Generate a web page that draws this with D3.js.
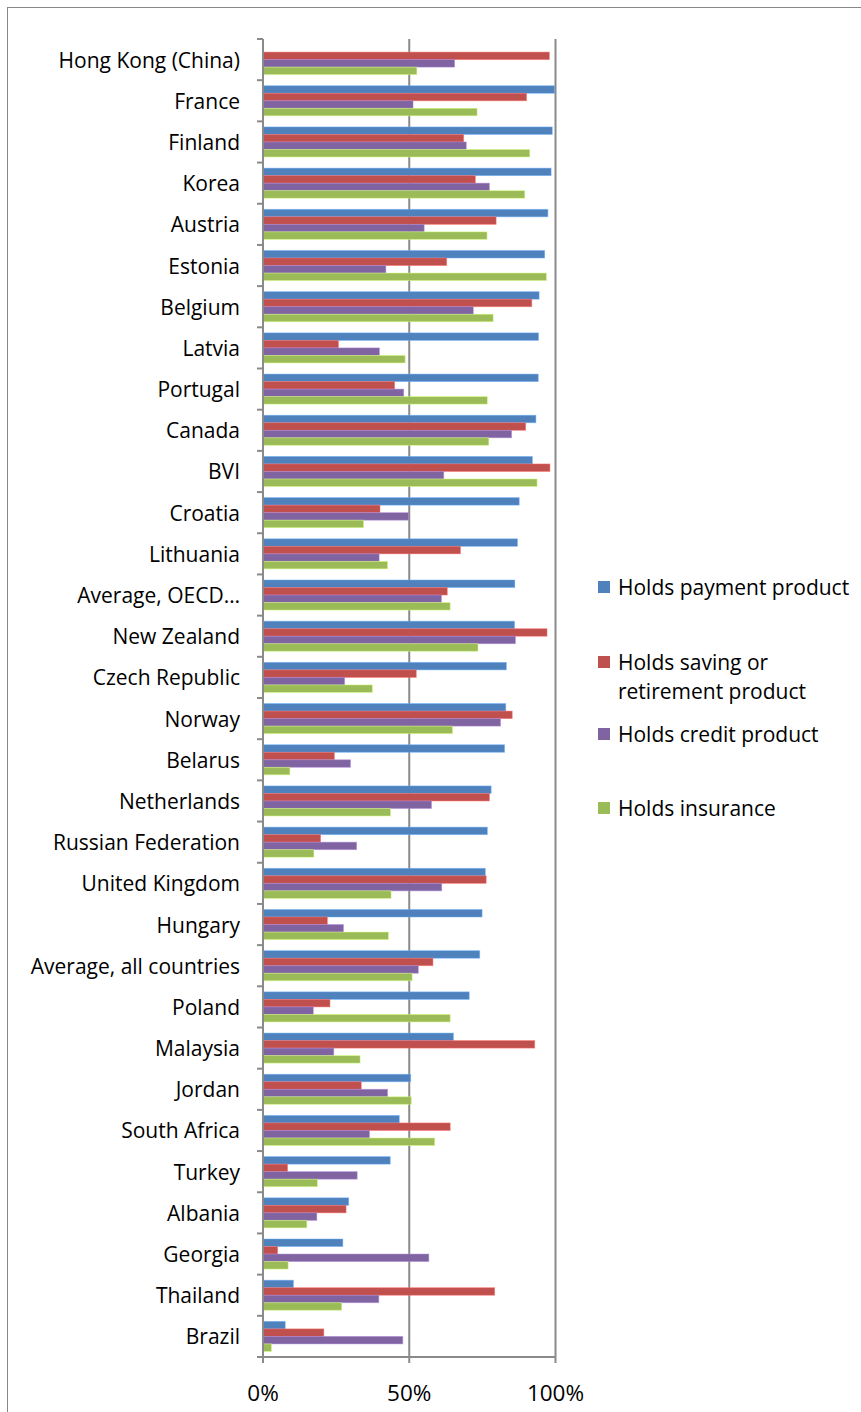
<!DOCTYPE html>
<html>
<head>
<meta charset="utf-8">
<script src="https://cdn.jsdelivr.net/npm/d3@7"></script>
<style>
  html, body { margin: 0; padding: 0; background: #fff; }
  svg { display: block; }
  text { font-family: "Open Sans", "Noto Sans", sans-serif; fill: #000; }
</style>
</head>
<body>
<svg id="chart" width="861" height="1412"></svg>
<script>
// Share of adults holding each type of financial product, by economy
const countries = [
  "Hong Kong (China)", "France", "Finland", "Korea", "Austria", "Estonia", "Belgium",
  "Latvia", "Portugal", "Canada", "BVI", "Croatia", "Lithuania", "Average, OECD…",
  "New Zealand", "Czech Republic", "Norway", "Belarus", "Netherlands",
  "Russian Federation", "United Kingdom", "Hungary", "Average, all countries",
  "Poland", "Malaysia", "Jordan", "South Africa", "Turkey", "Albania", "Georgia",
  "Thailand", "Brazil"
];

const payment = [null, 99.7, 98.9, 98.5, 97.4, 96.3, 94.4, 94.2, 94.1, 93.3, 92.1, 87.6,
  87.0, 86.1, 86.0, 83.2, 83.0, 82.6, 78.0, 76.7, 76.0, 74.9, 74.1, 70.5, 65.1, 50.5,
  46.6, 43.5, 29.3, 27.3, 10.4, 7.6];
const saving = [97.9, 90.1, 68.6, 72.6, 79.7, 62.8, 91.9, 25.8, 45.0, 89.8, 98.1, 40.0,
  67.5, 63.0, 97.1, 52.4, 85.2, 24.4, 77.4, 19.7, 76.3, 22.0, 58.1, 22.9, 92.9, 33.6,
  64.0, 8.4, 28.4, 5.0, 79.2, 20.8];
const credit = [65.5, 51.3, 69.5, 77.4, 55.1, 42.0, 71.9, 39.8, 48.1, 85.0, 61.8, 49.8,
  39.7, 61.0, 86.3, 27.9, 81.2, 29.9, 57.6, 32.0, 61.1, 27.5, 53.1, 17.2, 24.2, 42.6,
  36.4, 32.2, 18.4, 56.7, 39.6, 47.8];
const insurance = [52.6, 73.2, 91.2, 89.5, 76.6, 96.9, 78.7, 48.6, 76.7, 77.2, 93.7, 34.4,
  42.6, 64.0, 73.5, 37.4, 64.8, 9.2, 43.6, 17.4, 43.8, 42.9, 51.0, 64.0, 33.2, 50.7,
  58.7, 18.6, 15.0, 8.6, 26.9, 2.9];

const seriesNames = ["Holds payment product", "Holds saving or retirement product",
  "Holds credit product", "Holds insurance"];
const seriesLegendLines = [["Holds payment product"], ["Holds saving or", "retirement product"],
  ["Holds credit product"], ["Holds insurance"]];
const seriesColors = ["#4F81BD", "#C0504D", "#8064A2", "#9BBB59"];
const seriesValues = [payment, saving, credit, insurance];
const xTicks = [0, 50, 100];

const svg = d3.select("#chart");

// outer chart frame
svg.append("rect")
  .attr("x", 7.5).attr("y", 7.5)
  .attr("width", 880).attr("height", 1430)
  .attr("fill", "none").attr("stroke", "#888").attr("stroke-width", 1);

const plot = { left: 263, right: 555.5, top: 39, bottom: 1357 };

const x = d3.scaleLinear().domain([0, 100]).range([plot.left, plot.right]);
const y = d3.scaleBand().domain(countries).range([plot.top, plot.bottom]).paddingInner(0.27).paddingOuter(0.135);
const sub = d3.scaleBand().domain(d3.range(4)).range([0, y.bandwidth()]);

// vertical gridlines
svg.append("g").selectAll("line")
  .data(xTicks.filter(t => t > 0))
  .join("line")
  .attr("x1", d => x(d)).attr("x2", d => x(d))
  .attr("y1", plot.top).attr("y2", plot.bottom)
  .attr("stroke", "#8a8a8a").attr("stroke-width", 2);

// bars
const groups = svg.append("g").selectAll("g")
  .data(countries)
  .join("g")
  .attr("transform", d => `translate(0,${y(d)})`);

groups.each(function (c, i) {
  const g = d3.select(this);
  seriesValues.forEach((vals, s) => {
    const v = vals[i];
    if (v == null) return;
    g.append("rect")
      .attr("x", x(0))
      .attr("y", sub(s))
      .attr("width", x(v) - x(0))
      .attr("height", sub.bandwidth())
      .attr("fill", seriesColors[s])
      .attr("stroke", d3.color(seriesColors[s]).brighter(0.9))
      .attr("stroke-opacity", 0.6)
      .attr("stroke-width", 0.8);
  });
});

// category axis (left)
const yAxis = svg.append("g").attr("transform", `translate(${plot.left},0)`);
yAxis.append("line")
  .attr("x1", 0).attr("x2", 0).attr("y1", plot.top).attr("y2", plot.bottom + 6)
  .attr("stroke", "#8a8a8a").attr("stroke-width", 2);
const boundaries = d3.range(countries.length + 1).map(i => plot.top + i * y.step());
yAxis.selectAll("line.tick")
  .data(boundaries)
  .join("line").attr("class", "tick")
  .attr("x1", -6).attr("x2", 0)
  .attr("y1", d => d).attr("y2", d => d)
  .attr("stroke", "#8a8a8a").attr("stroke-width", 2);
yAxis.selectAll("text")
  .data(countries)
  .join("text")
  .attr("x", -23)
  .attr("y", d => y(d) + y.bandwidth() / 2)
  .attr("text-anchor", "end")
  .attr("dominant-baseline", "central")
  .attr("font-size", 21)
  .text(d => d);

// value axis (bottom)
const xAxis = svg.append("g").attr("transform", `translate(0,${plot.bottom})`);
xAxis.append("line")
  .attr("x1", plot.left - 6).attr("x2", plot.right)
  .attr("stroke", "#8a8a8a").attr("stroke-width", 2);
xAxis.selectAll("line.tick")
  .data(xTicks)
  .join("line").attr("class", "tick")
  .attr("x1", d => x(d)).attr("x2", d => x(d))
  .attr("y1", 0).attr("y2", 6)
  .attr("stroke", "#8a8a8a").attr("stroke-width", 2);
xAxis.selectAll("text")
  .data(xTicks)
  .join("text")
  .attr("x", d => x(d))
  .attr("y", 35)
  .attr("text-anchor", "middle")
  .attr("dominant-baseline", "central")
  .attr("font-size", 22.5)
  .text(d => d + "%");

// legend
const legendY = [587, 662, 734, 808];
const legend = svg.append("g");
seriesNames.forEach((name, s) => {
  const row = legend.append("g").attr("transform", `translate(598,${legendY[s]})`);
  row.append("rect")
    .attr("x", 0).attr("y", -6).attr("width", 12).attr("height", 12)
    .attr("fill", seriesColors[s]);
  row.selectAll("text")
    .data(seriesLegendLines[s])
    .join("text")
    .attr("x", 20)
    .attr("y", (d, k) => k * 29)
    .attr("dominant-baseline", "central")
    .attr("font-size", 21)
    .text(d => d);
});
</script>
</body>
</html>
